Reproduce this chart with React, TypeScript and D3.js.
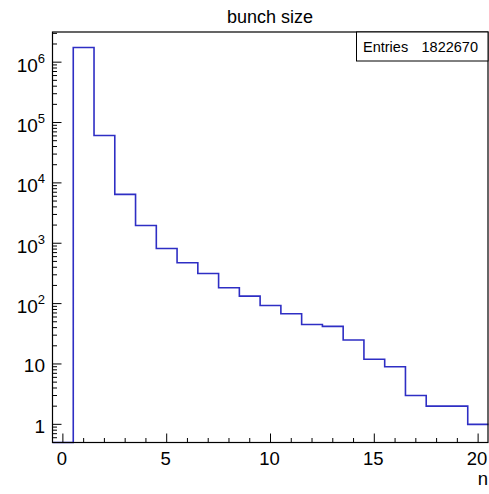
import React from "react";
import * as d3 from "d3";

// bunch size histogram, bins of width 1 centred on 0..20
const binCenters = [0, 1, 2, 3, 4, 5, 6, 7, 8, 9, 10, 11, 12, 13, 14, 15, 16, 17, 18, 19, 20];
const counts = [0, 1750000, 61000, 6450, 1970, 820, 475, 315, 183, 133, 93, 68, 45, 42, 25, 12, 9, 3, 2, 2, 1];
const xTickLabels = [0, 5, 10, 15, 20];
const yDecades = [0, 1, 2, 3, 4, 5, 6];
const entries = 1822670;

const W = 489;
const H = 494;
const left = 52.5, right = 488.5, top = 32.5, bottom = 442.5;
const font = "'Liberation Sans', Arial, Helvetica, sans-serif";
const lineBlue = "#2e2ec4";

const App = () => {
  const x = d3.scaleLinear().domain([-0.5, 20.5]).range([left, right]);
  const yMin = 0.5, yMax = 3.1e6;
  const y = d3.scaleLog().domain([yMin, yMax]).range([bottom, top]);

  const pts: [number, number][] = [];
  binCenters.forEach((c, i) => {
    const v = Math.max(counts[i], yMin);
    pts.push([c - 0.5, v]);
    pts.push([c + 0.5, v]);
  });
  const histPath = d3.line<[number, number]>()
    .x((d) => x(d[0]))
    .y((d) => y(d[1]))(pts);

  // minor ticks on x: every integer
  const xMinor = d3.range(0, 21).filter((v) => v % 5 !== 0);

  // minor ticks on y: 2..9 in each decade, inside the domain
  const yMinor: number[] = [];
  for (let e = -1; e <= 6; e++) {
    for (let m = 2; m <= 9; m++) {
      const v = m * Math.pow(10, e);
      if (v > yMin && v < yMax) yMinor.push(v);
    }
  }

  return (
    <svg width={W} height={H} style={{ position: "absolute", left: 0, top: 0, background: "#fff" }}
      fontFamily={font}>
      <rect x={0} y={0} width={W} height={H} fill="#fff" />
      <text x={270} y={23} fontSize={18} textAnchor="middle" fill="#000">bunch size</text>

      <path d={histPath || ""} fill="none" stroke={lineBlue} strokeWidth={1.6} />

      {/* frame */}
      <rect x={left} y={top - 0.5} width={right - left - 0.5} height={bottom - top + 0.5}
        fill="none" stroke="#000" strokeWidth={1.2} />

      {/* x axis ticks */}
      {xTickLabels.map((v) => (
        <g key={"xm" + v}>
          <line x1={x(v)} x2={x(v)} y1={bottom} y2={bottom - 9} stroke="#000" />
          <text x={x(v) - 1} y={465} fontSize={18.5} textAnchor="middle" fill="#000">{v}</text>
        </g>
      ))}
      {xMinor.map((v) => (
        <line key={"xn" + v} x1={x(v)} x2={x(v)} y1={bottom} y2={bottom - 4.5} stroke="#000" />
      ))}
      <text x={488} y={485} fontSize={18.5} textAnchor="end" fill="#000">n</text>

      {/* y axis ticks */}
      {yDecades.map((e) => {
        const v = Math.pow(10, e);
        const yy = y(v);
        return (
          <g key={"ym" + e}>
            <line x1={left} x2={left + 9} y1={yy} y2={yy} stroke="#000" />
            {e < 2 ? (
              <text x={45} y={yy + 8.5} fontSize={19} textAnchor="end" fill="#000">{String(v)}</text>
            ) : (
              <text x={45} y={yy + 9.5} fontSize={19} textAnchor="end" fill="#000">
                10<tspan fontSize={13} dy={-9}>{e}</tspan>
              </text>
            )}
          </g>
        );
      })}
      {yMinor.map((v, i) => (
        <line key={"yn" + i} x1={left} x2={left + 4.5} y1={y(v)} y2={y(v)} stroke="#000" />
      ))}

      {/* stats box */}
      <rect x={356.5} y={top - 0.5} width={right - 0.5 - 356.5} height={29} fill="#fff" stroke="#000" />
      <text x={363} y={52} fontSize={14.5} fill="#000">Entries</text>
      <text x={478} y={52} fontSize={14.5} textAnchor="end" fill="#000">{entries}</text>
    </svg>
  );
};

export default App;
